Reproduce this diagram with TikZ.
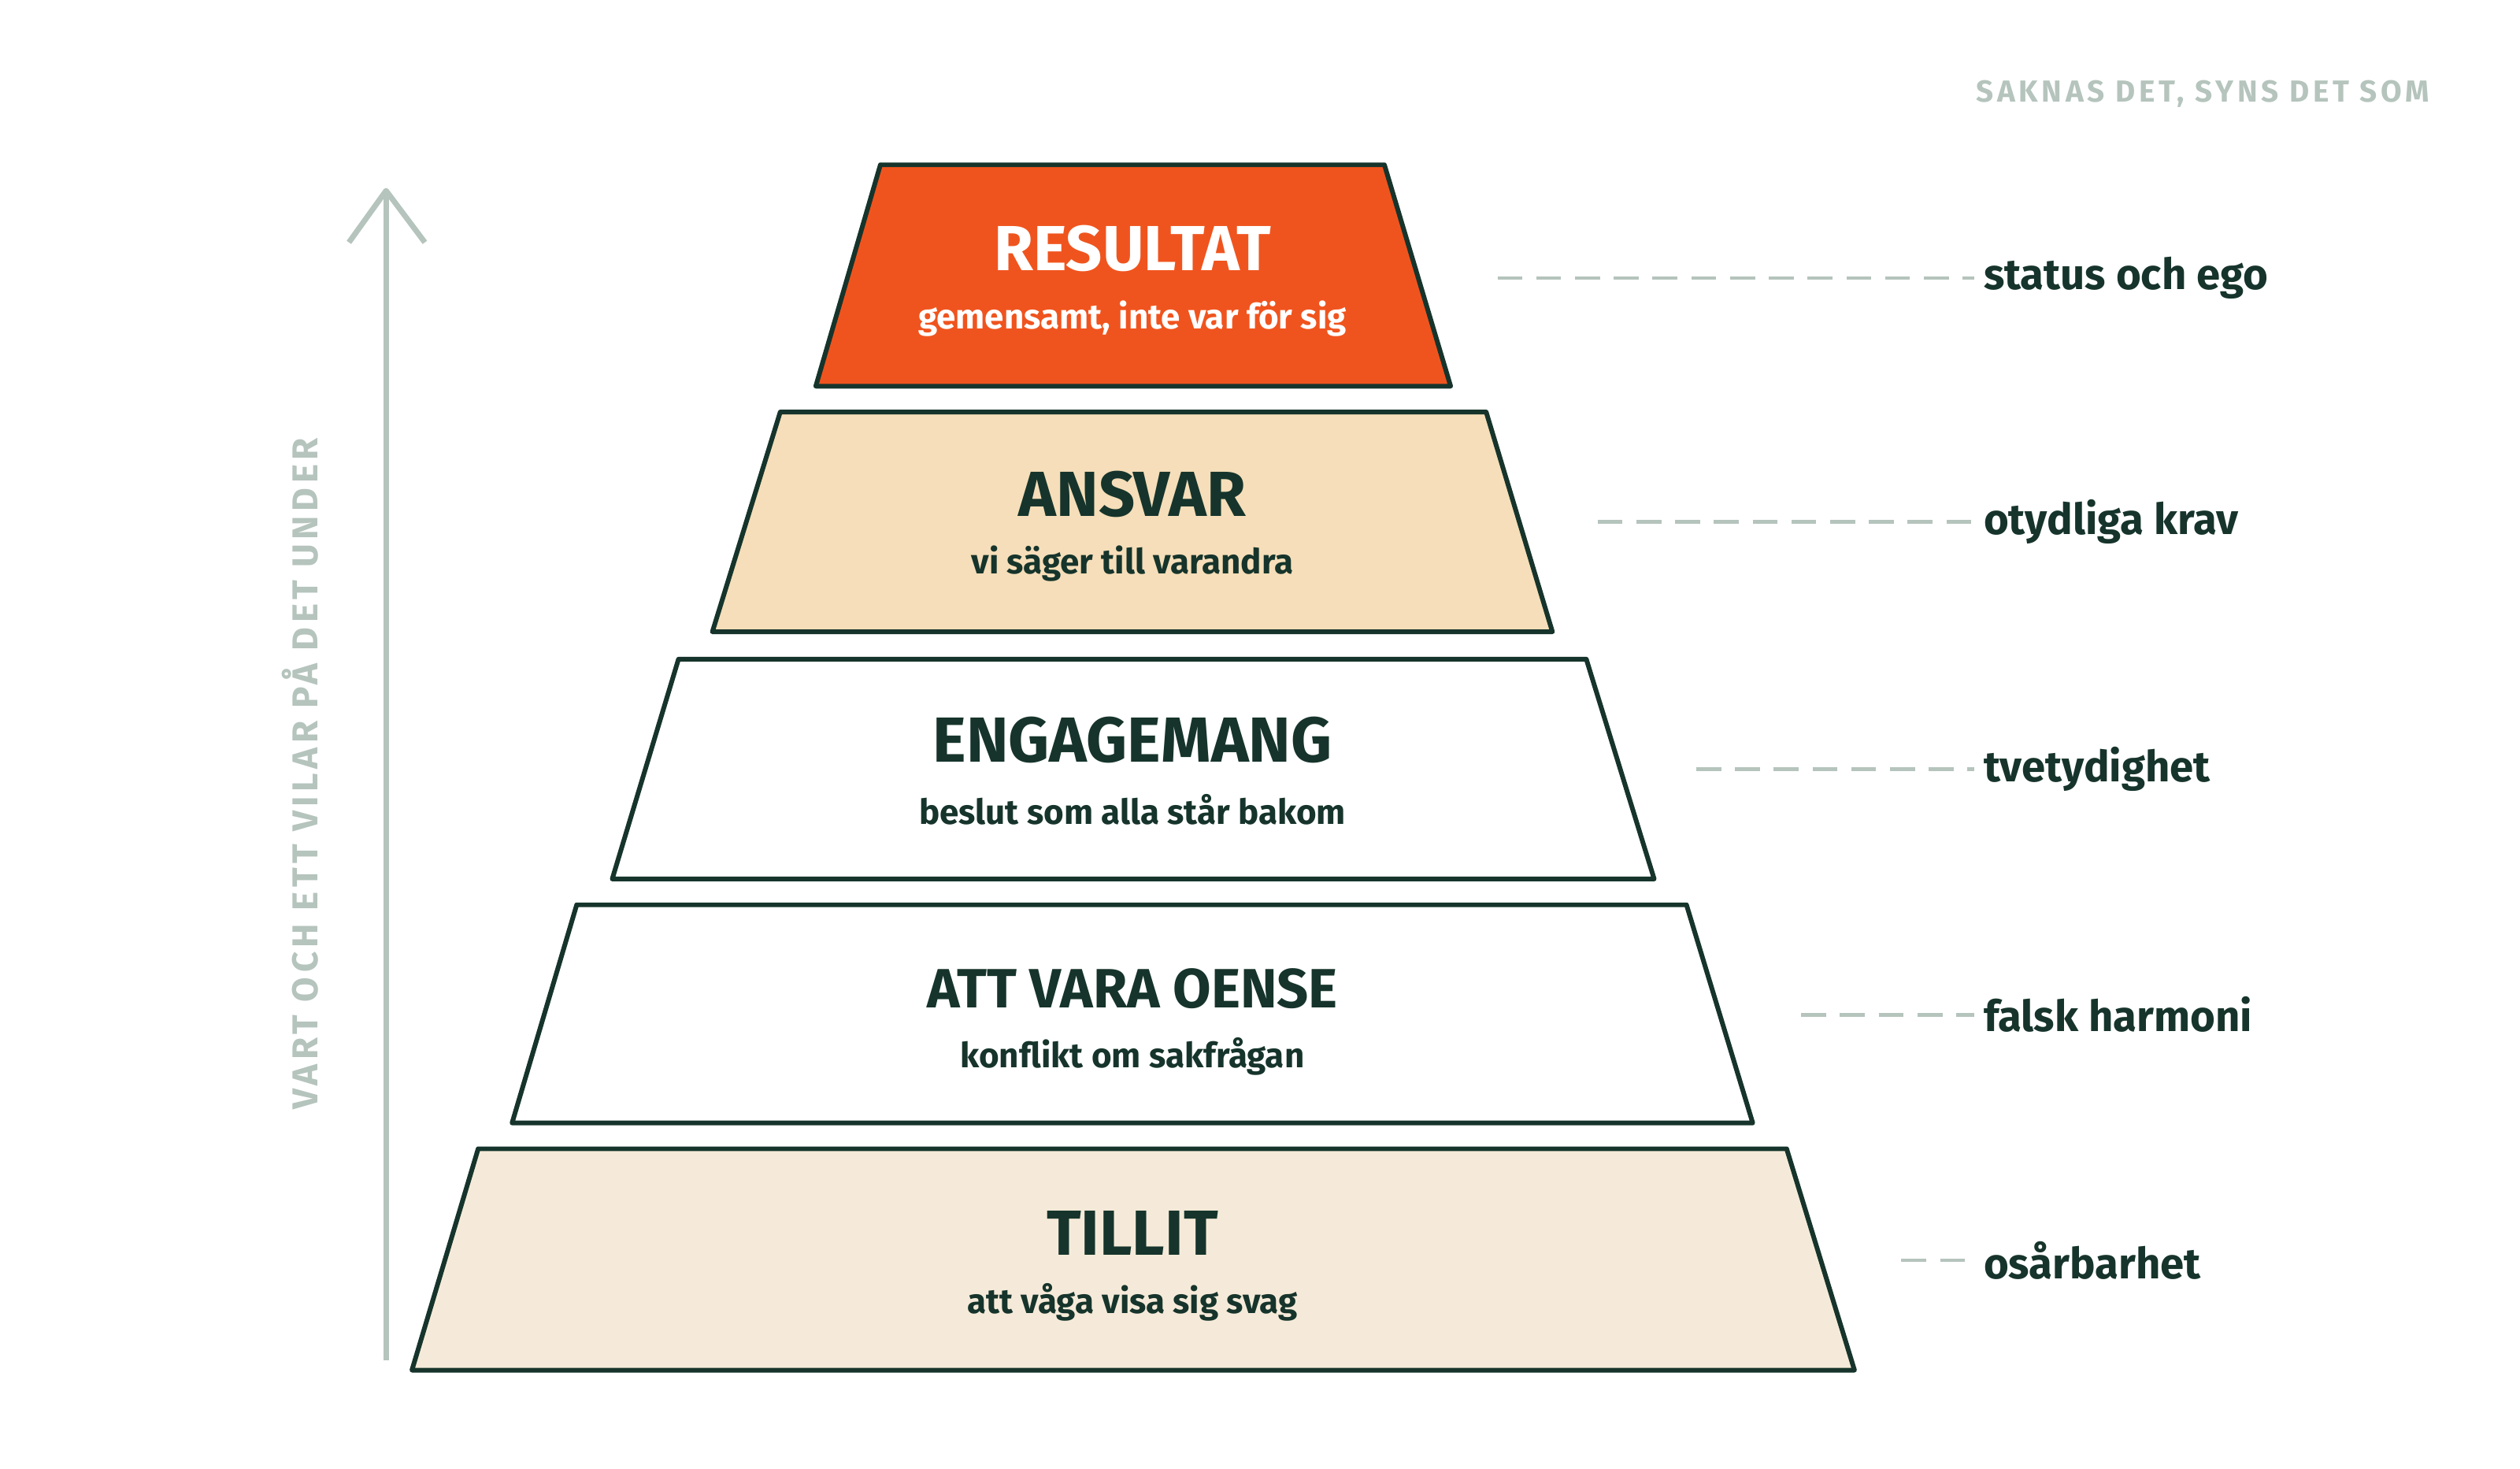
\documentclass[tikz,border=0pt]{standalone}
\usepackage{fontspec}
\setmainfont{Fira Sans}
\usetikzlibrary{positioning, calc}
\definecolor{darkgreen}{HTML}{16342B}
\definecolor{sage}{HTML}{B5C4BD}
\definecolor{orangetop}{HTML}{F0541E}
\definecolor{sandmid}{HTML}{F5DEB9}
\definecolor{sandlow}{HTML}{F5EAD9}
\tikzset{
  level/.style={draw=darkgreen, line width=1.7pt, line join=round},
  title/.style={font=\fontsize{23}{26}\selectfont\bfseries, text=darkgreen},
  subtitle/.style={font=\fontsize{12.5}{14}\selectfont\bfseries, text=darkgreen},
  gap/.style={font=\fontsize{15.5}{18}\selectfont\bfseries, text=darkgreen, anchor=west},
  hint/.style={draw=sage, line width=1.3pt, dash pattern=on 9pt off 5pt}
}
\begin{document}
\begin{tikzpicture}[x=0.02051cm, y=-0.02051cm]
        \useasboundingbox (0,0) rectangle (1560,909);
        
        % Arrow and side text
        \coordinate (abot) at (239,842);
        \coordinate (atop) at (239,118);
        \draw[sage, line width=2pt] (abot) -- (atop);
        \draw[sage, line width=2pt, line join=round] (216,150) -- (atop) -- (263,150);
        \node[rotate=90, text=sage, font=\fontsize{13}{15}\selectfont\bfseries] (side) at (186,479) {\addfontfeature{LetterSpace=12}VART OCH ETT VILAR PÅ DET UNDER};
        \node[anchor=east, text=sage, font=\fontsize{11}{13}\selectfont\bfseries] (head) at (1510,58) {\addfontfeature{LetterSpace=12}SAKNAS DET, SYNS DET SOM};
        
        % Levels
        \draw[level, fill=orangetop] (545,102) -- (857,102) -- (898,239) -- (505,239) -- cycle;
        \draw[level, fill=sandmid] (483,255) -- (920,255) -- (961,391) -- (441,391) -- cycle;
        \draw[level, fill=white] (420,408) -- (982,408) -- (1024,544) -- (379,544) -- cycle;
        \draw[level, fill=white] (357,560) -- (1044,560) -- (1085,695) -- (317,695) -- cycle;
        \draw[level, fill=sandlow] (296,711) -- (1106,711) -- (1148,848) -- (255,848) -- cycle;
        
        % Texts
        \node[title, text=white] (resultat) at (701,154) {RESULTAT};
        \node[subtitle, text=white] (resultatsub) at (701,197) {gemensamt, inte var för sig};
        \node[title] (ansvar) at (701,306) {ANSVAR};
        \node[subtitle] (ansvarsub) at (701,349) {vi säger till varandra};
        \node[title] (engagemang) at (701,458) {ENGAGEMANG};
        \node[subtitle] (engagemangsub) at (701,501) {beslut som alla står bakom};
        \node[title, font=\fontsize{20}{23}\selectfont\bfseries] (oense) at (701,612) {ATT VARA OENSE};
        \node[subtitle] (oensesub) at (701,654) {konflikt om sakfrågan};
        \node[title] (tillit) at (701,763) {TILLIT};
        \node[subtitle] (tillitsub) at (701,806) {att våga visa sig svag};
        
        % Right labels
        \node[gap] (ego) at (1222,172) {status och ego};
        \node[gap] (krav) at (1222,323) {otydliga krav};
        \node[gap] (tvety) at (1222,476) {tvetydighet};
        \node[gap] (harmoni) at (1222,628) {falsk harmoni};
        \node[gap] (osar) at (1222,780) {osårbarhet};
        \coordinate (egostart) at (927,172);
        \coordinate (kravstart) at (989,323);
        \coordinate (tvetystart) at (1050,476);
        \coordinate (harmonistart) at (1115,628);
        \coordinate (osarstart) at (1177,780);
        \draw[hint] (egostart) -- (ego.west);
        \draw[hint] (kravstart) -- (krav.west);
        \draw[hint] (tvetystart) -- (tvety.west);
        \draw[hint] (harmonistart) -- (harmoni.west);
        \draw[hint] (osarstart) -- (osar.west);
    \end{tikzpicture}
\end{document}
